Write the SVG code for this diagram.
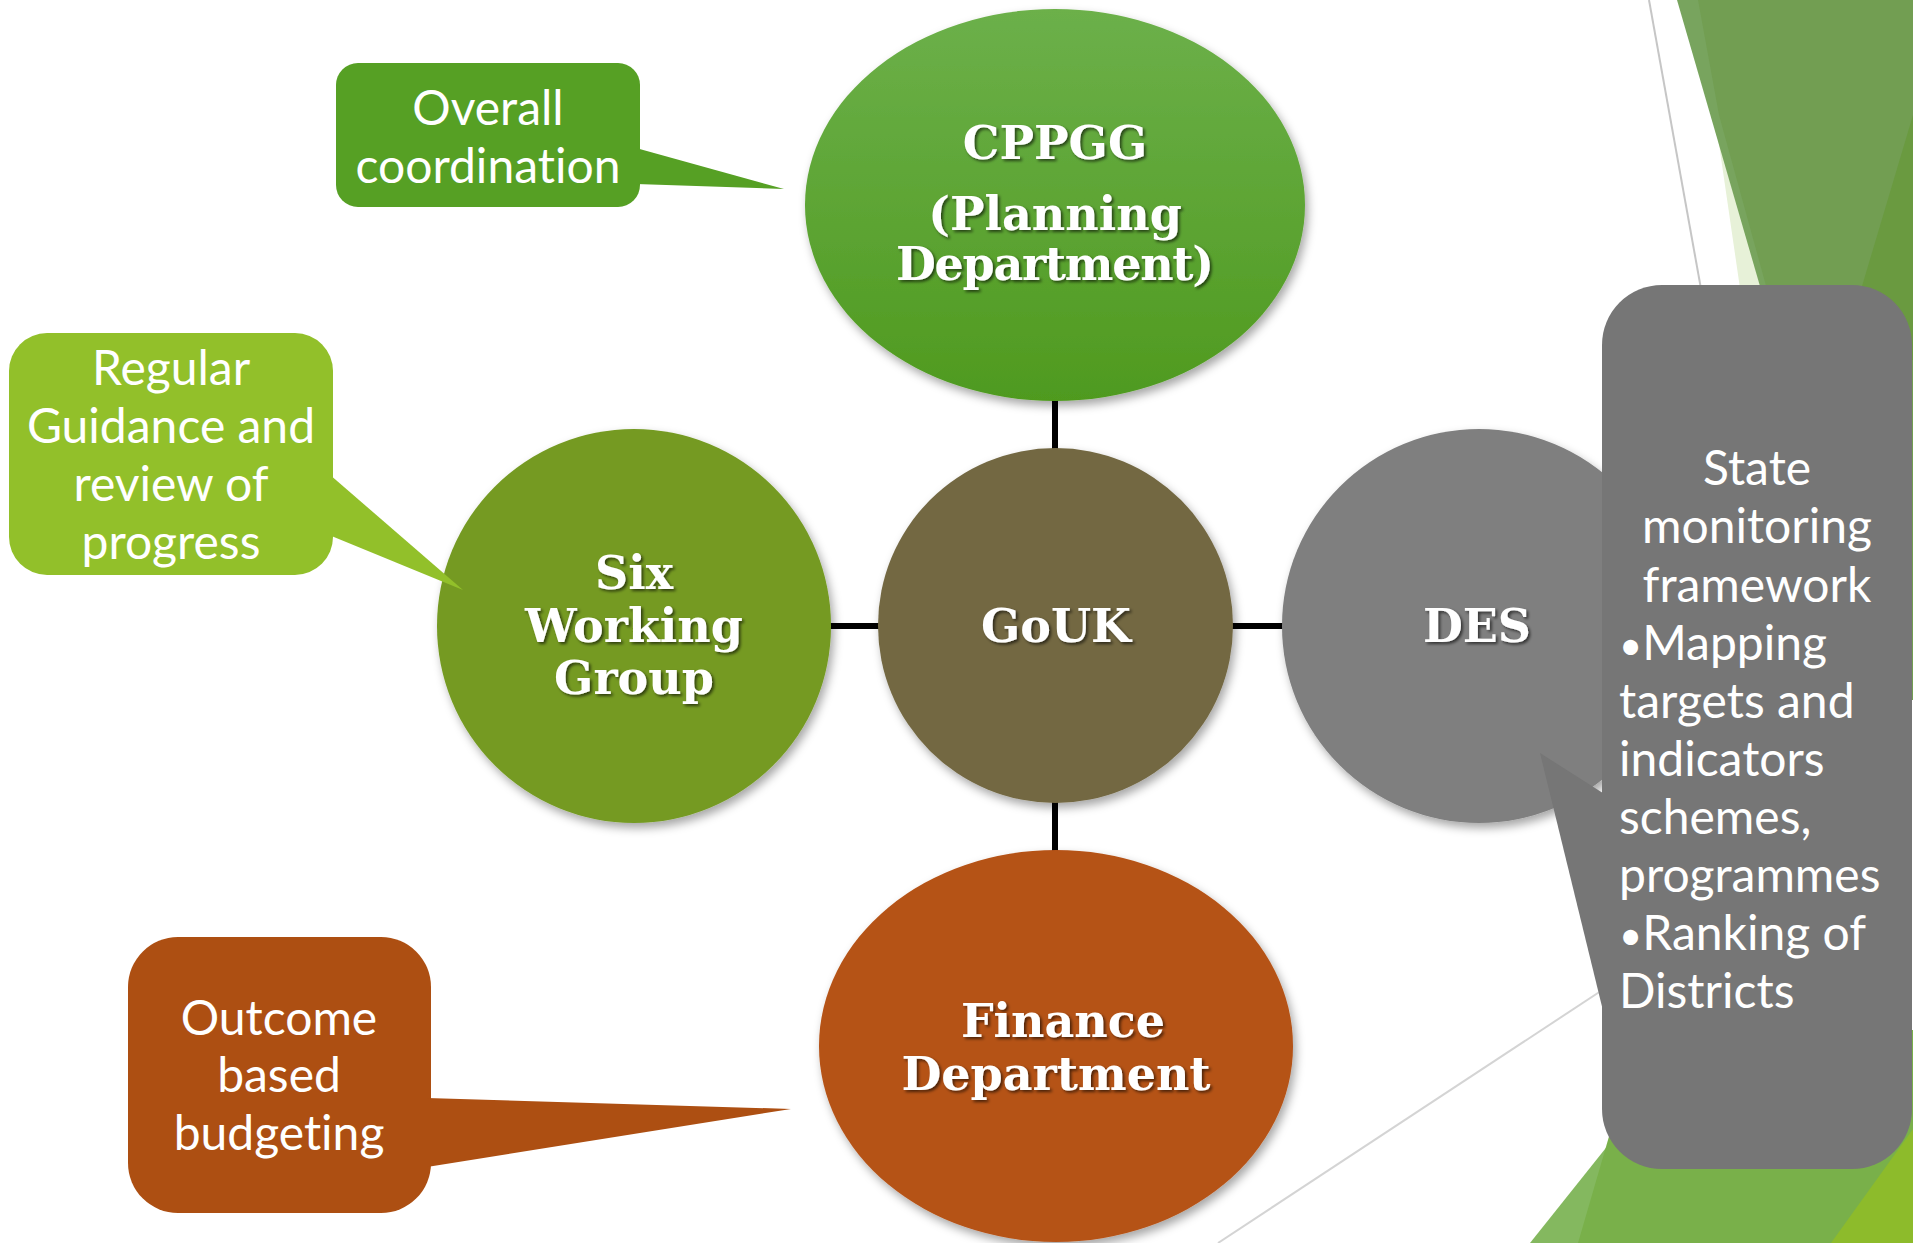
<svg xmlns="http://www.w3.org/2000/svg" width="1913" height="1243" viewBox="0 0 1913 1243">
<defs>
<style>
.callout{font-family:Lato,"Liberation Sans",sans-serif;font-size:48px;fill:#ffffff;font-variant-ligatures:none;font-feature-settings:"liga" 0;}
.mid{text-anchor:middle;}
.title{font-family:"DejaVu Serif","Liberation Serif",serif;font-weight:bold;font-size:46px;fill:#ffffff;text-anchor:middle;filter:url(#tshadow);}
.conn{stroke:#000000;stroke-width:6;fill:none;}
</style>
<linearGradient id="gCppgg" x1="0" y1="0" x2="0" y2="1">
<stop offset="0" stop-color="#6cb04a"/>
<stop offset="1" stop-color="#4f9a1f"/>
</linearGradient>
<filter id="shadow" x="-20%" y="-20%" width="140%" height="140%">
<feDropShadow dx="3" dy="5" stdDeviation="5" flood-color="#000000" flood-opacity="0.35"/>
</filter>
<filter id="tshadow" x="-10%" y="-30%" width="120%" height="160%">
<feDropShadow dx="2" dy="2" stdDeviation="1.5" flood-color="#000000" flood-opacity="0.6"/>
</filter>
</defs>
<rect x="0" y="0" width="1913" height="1243" fill="#ffffff"/>
<g id="background">
<line x1="1649" y1="0" x2="1712" y2="350" stroke="#c6c6c6" stroke-width="2"/>
<line x1="1218" y1="1243" x2="1610" y2="985" stroke="#d4d4d4" stroke-width="2"/>
<polygon points="1698,0 1913,0 1913,700 1800,700" fill="#e7f1d8"/>
<polygon points="1677,0 1913,0 1913,700 1880,700" fill="#78a45e"/>
<polygon points="1698,0 1913,0 1913,700 1880,700 1719,115" fill="#729e52"/>
<polygon points="1913,115 1840,360 1913,360" fill="#6a9a40"/>
<polygon points="1530,1243 1700,1030 1913,1030 1913,1243" fill="#84b85f"/>
<polygon points="1578,1243 1640,1030 1913,1030 1913,1243" fill="#79b04a"/>
<polygon points="1831,1243 1913,1129 1913,1243" fill="#8dbb2b"/>
</g>
<g id="connectors">
<line class="conn" x1="1055" y1="398" x2="1055" y2="450"/>
<line class="conn" x1="1055" y1="800" x2="1055" y2="852"/>
<line class="conn" x1="828" y1="626" x2="880" y2="626"/>
<line class="conn" x1="1231" y1="626" x2="1284" y2="626"/>
</g>
<g id="node-cppgg">
<ellipse cx="1055" cy="205" rx="250" ry="196" fill="url(#gCppgg)" filter="url(#shadow)"/>
<text class="title" x="1055" y="159">CPPGG</text>
<text class="title" x="1055" y="230">(Planning</text>
<text class="title" x="1055" y="280" textLength="318">Department)</text>
</g>
<g id="node-six">
<circle cx="634" cy="626" r="197" fill="#749a22" filter="url(#shadow)"/>
<text class="title" x="634" y="589">Six</text>
<text class="title" x="634" y="642">Working</text>
<text class="title" x="634" y="694">Group</text>
</g>
<g id="node-gouk">
<circle cx="1055.5" cy="625.5" r="177.5" fill="#736843" filter="url(#shadow)"/>
<text class="title" x="1056" y="642">GoUK</text>
</g>
<g id="node-des">
<circle cx="1479" cy="626" r="197" fill="#7f7f7f" filter="url(#shadow)"/>
<text class="title" x="1477" y="642">DES</text>
</g>
<g id="node-finance">
<ellipse cx="1056" cy="1046" rx="237" ry="196" fill="#b55216" filter="url(#shadow)"/>
<text class="title" x="1063" y="1037">Finance</text>
<text class="title" x="1056" y="1090">Department</text>
</g>
<g id="callout-overall">
<rect x="336" y="63" width="304" height="144" rx="22" fill="#56a024"/>
<polygon points="636,148 784,189 636,184" fill="#56a024"/>
<text class="callout mid" x="488" y="125">Overall</text>
<text class="callout mid" x="488" y="183">coordination</text>
</g>
<g id="callout-regular">
<rect x="9" y="333" width="324" height="242" rx="38" fill="#92c02a"/>
<polygon points="329,474 463,590 329,535" fill="#92c02a"/>
<text class="callout mid" x="171" y="385">Regular</text>
<text class="callout mid" x="171" y="443">Guidance and</text>
<text class="callout mid" x="171" y="501">review of</text>
<text class="callout mid" x="171" y="559">progress</text>
</g>
<g id="callout-outcome">
<rect x="128" y="937" width="303" height="276" rx="50" fill="#ad4f12"/>
<polygon points="427,1098 791,1109 427,1167" fill="#ad4f12"/>
<text class="callout mid" x="279" y="1035">Outcome</text>
<text class="callout mid" x="279" y="1092">based</text>
<text class="callout mid" x="279" y="1150">budgeting</text>
</g>
<g id="callout-state">
<rect x="1602" y="285" width="310" height="884" rx="60" fill="#767676"/>
<polygon points="1606,795 1540,753 1606,1023" fill="#767676"/>
<text class="callout mid" x="1757" y="485">State</text>
<text class="callout mid" x="1757" y="543">monitoring</text>
<text class="callout mid" x="1757" y="602">framework</text>
<text class="callout" x="1619" y="660"><tspan font-size="40">•</tspan>Mapping</text>
<text class="callout" x="1619" y="718">targets and</text>
<text class="callout" x="1619" y="776">indicators</text>
<text class="callout" x="1619" y="834">schemes,</text>
<text class="callout" x="1619" y="892">programmes</text>
<text class="callout" x="1619" y="950"><tspan font-size="40">•</tspan>Ranking of</text>
<text class="callout" x="1619" y="1008">Districts</text>
</g>
</svg>
